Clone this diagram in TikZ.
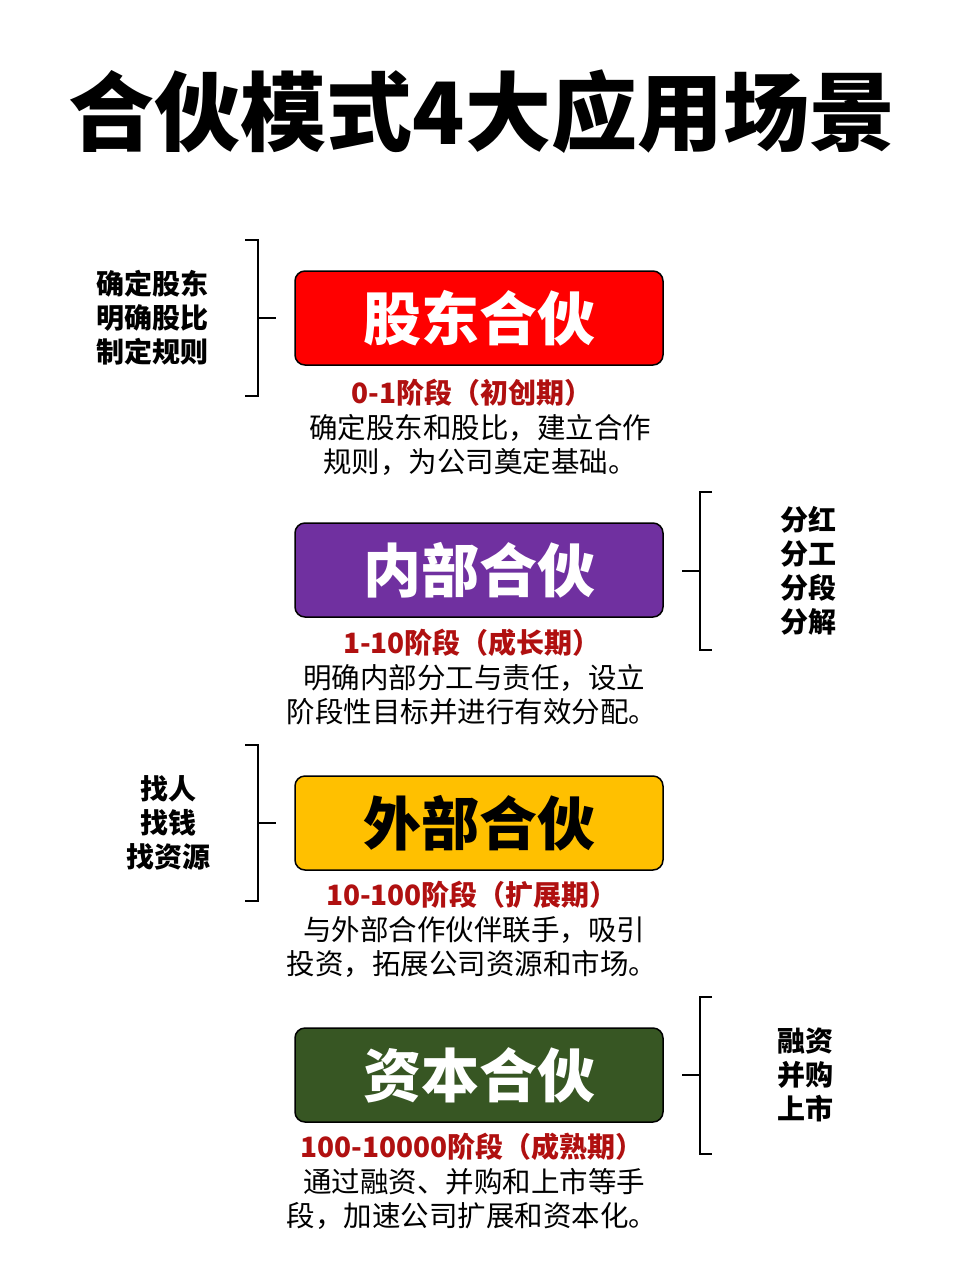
\documentclass[tikz,border=0pt]{standalone}
\usepackage{fontspec}
\setmainfont{Noto Sans CJK SC}
\definecolor{cpurple}{HTML}{7030A0}
\definecolor{cyellow}{HTML}{FFC000}
\definecolor{cgreen}{HTML}{375623}
\definecolor{cred}{HTML}{FF0000}
\definecolor{csub}{HTML}{B01010}
\begin{document}
\begin{tikzpicture}[x=1pt,y=-1pt,
 box/.style={draw=black,line width=1.5pt,rounded corners=10pt,minimum width=368pt,minimum height=94pt,inner sep=0pt,font=\fontsize{58}{60}\selectfont\bfseries},
 sub/.style={text=csub,font=\fontsize{28}{30}\selectfont\bfseries},
 desc/.style={align=center,font=\fontsize{28.5}{34}\selectfont},
 lab/.style={align=center,font=\fontsize{28}{34}\selectfont\bfseries},
 br/.style={line width=1.2pt}]
\useasboundingbox (0,0) rectangle (960,1280);
\node[font=\fontsize{86}{88}\selectfont\bfseries] (title) at (482,112) {合伙模式4大应用场景};
% boxes
\node[box,fill=cred,text=white] (b1) at (479,318) {股东合伙};
\node[box,fill=cpurple,text=white] (b2) at (479,570) {内部合伙};
\node[box,fill=cyellow,text=black] (b3) at (479,823) {外部合伙};
\node[box,fill=cgreen,text=white] (b4) at (479,1075) {资本合伙};
\node[sub] (s1) at (472,393) {0-1阶段（初创期）};
\node[sub] (s2) at (472,643) {1-10阶段（成长期）};
\node[sub] (s3) at (472,895) {10-100阶段（扩展期）};
\node[sub] (s4) at (472,1147) {100-10000阶段（成熟期）};
\node[desc] (d1) at (480,445) {确定股东和股比，建立合作\\规则，为公司奠定基础。};
\node[desc] (d2) at (472,695) {\,明确内部分工与责任，设立\\阶段性目标并进行有效分配。};
\node[desc] (d3) at (472,947) {\,与外部合作伙伴联手，吸引\\投资，拓展公司资源和市场。};
\node[desc] (d4) at (472,1199) {\,通过融资、并购和上市等手\\段，加速公司扩展和资本化。};
% brackets
\draw[br] (245,240) -- (258,240) -- (258,396) -- (245,396);
\draw[br] (258,318) -- (276,318);
\node[lab] (l1) at (152,318) {确定股东\\明确股比\\制定规则};
\draw[br] (712,492) -- (700,492) -- (700,650) -- (712,650);
\draw[br] (700,571) -- (682,571);
\node[lab] (l2) at (808,571) {分红\\分工\\分段\\分解};
\draw[br] (245,745) -- (258,745) -- (258,901) -- (245,901);
\draw[br] (258,823) -- (276,823);
\node[lab] (l3) at (168,823) {找人\\找钱\\找资源};
\draw[br] (712,997) -- (700,997) -- (700,1154) -- (712,1154);
\draw[br] (700,1075) -- (682,1075);
\node[lab] (l4) at (805,1075) {融资\\并购\\上市};
\end{tikzpicture}
\end{document}
